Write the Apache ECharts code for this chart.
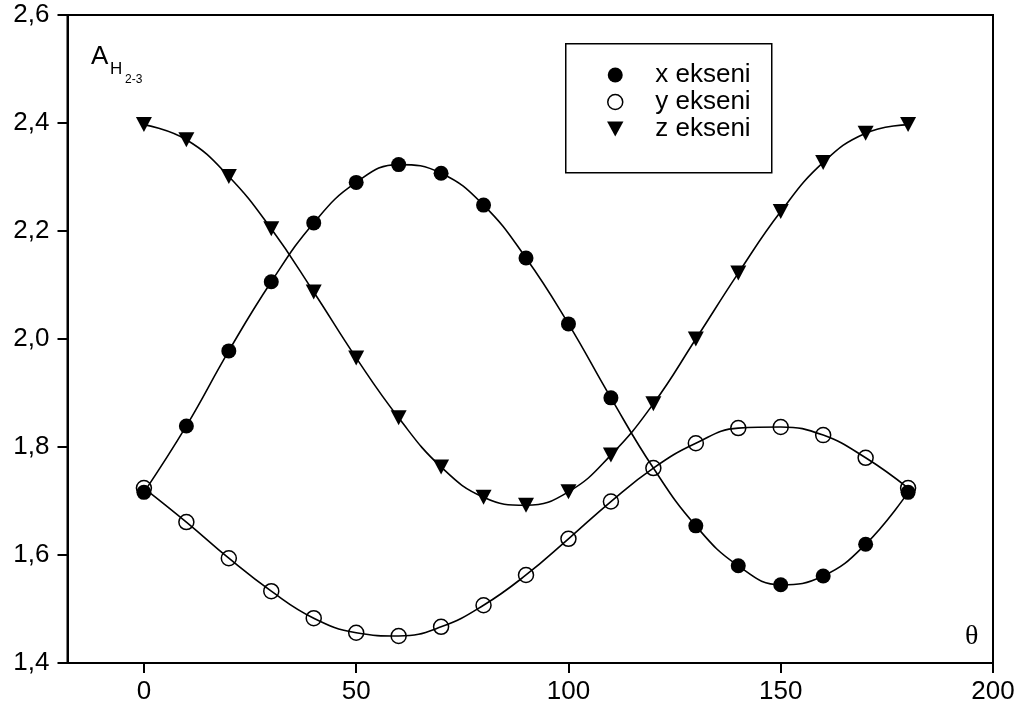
<!DOCTYPE html>
<html>
<head>
<meta charset="utf-8">
<script src="https://cdn.jsdelivr.net/npm/echarts@6/dist/echarts.min.js"></script>
<style>
  html, body { margin: 0; padding: 0; background: #fff; }
  #chart { width: 1019px; height: 717px; }
</style>
</head>
<body>
<div id="chart"></div>
<script>
// Rotation angle θ (degrees)
const theta = [0, 10, 20, 30, 40, 50, 60, 70, 80, 90, 100, 110, 120, 130, 140, 150, 160, 170, 180];

// A_H(2-3) along each axis; null where no marker is plotted
const xEkseni = [1.716, 1.839, 1.978, 2.106, 2.215, 2.290, 2.323, 2.307, 2.248, 2.150, 2.028, 1.891, null, 1.654, 1.580, 1.545, 1.561, 1.620, 1.716];
const yEkseni = [1.724, 1.661, 1.594, 1.533, 1.483, 1.456, 1.450, 1.467, 1.507, 1.563, 1.630, 1.699, 1.761, 1.807, 1.835, 1.837, 1.822, 1.780, 1.724];
const zEkseni = [2.397, 2.369, 2.301, 2.204, 2.087, 1.965, 1.854, 1.763, 1.707, 1.692, 1.717, 1.785, 1.880, 2.000, 2.122, 2.236, 2.327, 2.381, 2.397];

// Smooth fitted curve for the x axis (passes 1.761 at 120°)
const xCurve = [1.716, 1.839, 1.978, 2.106, 2.215, 2.290, 2.323, 2.307, 2.248, 2.150, 2.028, 1.891, 1.761, 1.654, 1.580, 1.545, 1.561, 1.620, 1.716];

const xTicks = [0, 50, 100, 150, 200];
const names = ['x ekseni', 'y ekseni', 'z ekseni'];

const pairs = (xs, ys) => xs.map((t, i) => ys[i] == null ? null : [t, ys[i]]).filter(p => p);
const triDown = 'path://M0,0L12,0L6,11Z';
const fmtComma = v => v.toFixed(1).replace('.', ',');
const sans = '"Liberation Sans", Arial, sans-serif';

const chart = echarts.init(document.getElementById('chart'), null, { renderer: 'canvas' });

const curveStyle = { color: '#000', width: 1.6 };

chart.setOption({
  animation: false,
  backgroundColor: '#fff',
  grid: {
    left: 67.5, right: 26, top: 15, bottom: 54,
    show: true, borderColor: '#000', borderWidth: 2, backgroundColor: 'transparent'
  },
  xAxis: {
    type: 'value', min: -18, max: 200,
    axisLine: { show: true, onZero: false, lineStyle: { color: '#000', width: 2 } },
    axisTick: { show: true, inside: false, length: 10, customValues: xTicks, lineStyle: { color: '#000', width: 2 } },
    axisLabel: { customValues: xTicks, margin: 16, color: '#000', fontFamily: sans, fontSize: 26, formatter: v => String(v) },
    splitLine: { show: false }
  },
  yAxis: {
    type: 'value', min: 1.4, max: 2.6, interval: 0.2,
    axisLine: { show: true, onZero: false, lineStyle: { color: '#000', width: 2 } },
    axisTick: { show: true, inside: false, length: 10, lineStyle: { color: '#000', width: 2 } },
    axisLabel: { margin: 18, color: '#000', fontFamily: sans, fontSize: 26, formatter: fmtComma },
    splitLine: { show: false }
  },
  legend: {
    orient: 'vertical',
    left: 565, top: 43,
    padding: [19, 0, 0, 42],
    borderWidth: 0,
    itemWidth: 70, itemHeight: 15, itemGap: 1,
    symbolKeepAspect: true,
    textStyle: { color: '#000', fontFamily: sans, fontSize: 26 },
    data: [
      { name: names[0], icon: 'circle', itemStyle: { color: '#000', borderWidth: 0 } },
      { name: names[1], icon: 'circle', itemStyle: { color: '#fff', borderColor: '#000', borderWidth: 1.5 } },
      { name: names[2], icon: triDown, itemStyle: { color: '#000', borderWidth: 0 } }
    ]
  },
  graphic: [
    // legend frame
    { type: 'rect', left: 565, top: 43, z: 1, shape: { width: 206, height: 129 },
      style: { fill: 'transparent', stroke: '#000', lineWidth: 1.5 } },
    { type: 'text', left: 91, top: 44, style: { text: 'A', fill: '#000', font: '26px ' + sans } },
    { type: 'text', left: 110, top: 61, style: { text: 'H', fill: '#000', font: '17px ' + sans } },
    { type: 'text', left: 125, top: 74, style: { text: '2-3', fill: '#000', font: '12px ' + sans } },
    { type: 'text', left: 965, top: 623, style: { text: 'θ', fill: '#000', font: '28px "Liberation Serif", "Times New Roman", serif' } }
  ],
  series: [
    { type: 'line', data: pairs(theta, xCurve), smooth: 0.45, showSymbol: false, lineStyle: curveStyle, z: 2, silent: true },
    { type: 'line', data: pairs(theta, yEkseni), smooth: 0.45, showSymbol: false, lineStyle: curveStyle, z: 2, silent: true },
    { type: 'line', data: pairs(theta, zEkseni), smooth: 0.45, showSymbol: false, lineStyle: curveStyle, z: 2, silent: true },
    { name: names[0], type: 'scatter', data: pairs(theta, xEkseni), symbol: 'circle', symbolSize: 15,
      itemStyle: { color: '#000', opacity: 1 }, z: 3 },
    { name: names[1], type: 'scatter', data: pairs(theta, yEkseni), symbol: 'circle', symbolSize: 15,
      itemStyle: { color: 'rgba(255,255,255,0)', borderColor: '#000', borderWidth: 1.5, opacity: 1 }, z: 4 },
    { name: names[2], type: 'scatter', data: pairs(theta, zEkseni), symbol: triDown, symbolSize: [16, 15],
      itemStyle: { color: '#000', opacity: 1 }, z: 3 }
  ]
});
</script>
</body>
</html>
